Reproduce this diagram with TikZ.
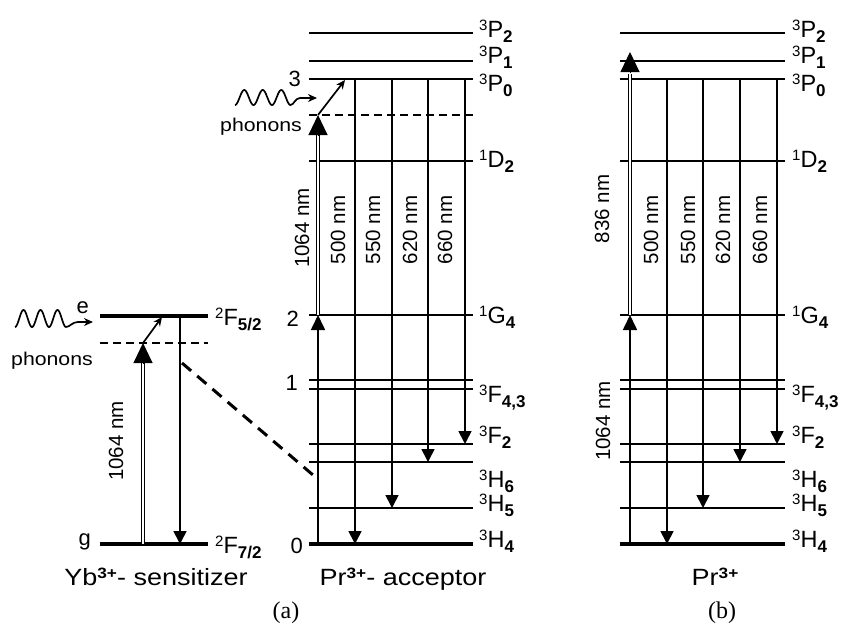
\documentclass[tikz,border=0pt]{standalone}
\usepackage{fontspec}
\setmainfont{Liberation Sans}
\newfontfamily\widesans[FakeStretch=1.15]{Liberation Sans}
\newfontfamily\panelserif{Liberation Serif}
\usetikzlibrary{arrows.meta}
\newcommand{\term}[3]{\raisebox{6.5pt}{\fontsize{15}{15}\selectfont #1}#2\raisebox{-5.5pt}{\fontsize{17}{17}\selectfont\bfseries #3}}
\newcommand{\ionsup}[1]{\raisebox{6.5pt}{\fontsize{15}{15}\selectfont\bfseries #1}}
\tikzset{
	virtlvl/.style={dash pattern=on 8pt off 5pt, line width=1.7pt},
	xfer/.style={dash pattern=on 12pt off 8pt, line width=3pt},
	emisarr/.style={line width=1.7pt, -{Triangle[width=13pt,length=13pt]}},
	pumparr/.style={line width=1.7pt, -{Triangle[width=14pt,length=15pt]}},
	pumpdbl/.style={double, double distance=1.8pt, line width=1.2pt},
	bigtip/.style={line width=1pt, -{Triangle[width=19pt,length=20pt]}},
	phonarr/.style={line width=1.7pt, -{Stealth[width=8pt,length=9pt]}},
	lvllabel/.style={font=\fontsize{23.5}{24}\selectfont, anchor=base west, inner sep=0pt},
	numlabel/.style={font=\fontsize{22}{22}\selectfont, anchor=base east, inner sep=0pt},
	wavelabel/.style={font=\fontsize{20.5}{21}\selectfont, rotate=90, inner sep=0pt},
	phonlabel/.style={font=\widesans\fontsize{18.5}{18.5}\selectfont, inner sep=0pt},
	ionlabel/.style={font=\widesans\fontsize{23.5}{24}\selectfont, anchor=base, inner sep=0pt},
	panellabel/.style={font=\panelserif\fontsize{24}{24}\selectfont, anchor=base, inner sep=0pt},
}

\begin{document}
\begin{tikzpicture}[x=1pt, y=-1pt]
	\useasboundingbox (0,0) rectangle (841,625);

	% Pr3+ levels, panels (a) and (b)
	\foreach \lv/\yy/\lw in {P2/33/1.8pt, P1/61/1.8pt, P0/79/2.8pt, D2/161/1.8pt, G4/315/2.8pt, F4/380/2.8pt, F3/389/2.8pt, F2/444/1.8pt, H6/462/1.8pt, H5/508/1.8pt, H4/544/3.8pt}{
		\draw[line width=\lw] (309,\yy) coordinate (a\lv) -- (473,\yy);
		\draw[line width=\lw] (620,\yy) coordinate (b\lv) -- (785,\yy);
	}
	\foreach \lv/\yy/\txt in {P2/37/{\term{3}{P}{2}}, P1/63/{\term{3}{P}{1}}, P0/91/{\term{3}{P}{0}}, D2/167/{\term{1}{D}{2}}, G4/323/{\term{1}{G}{4}}, F43/402/{\term{3}{F}{4,3}}, F2/443/{\term{3}{F}{2}}, H6/487/{\term{3}{H}{6}}, H5/511/{\term{3}{H}{5}}, H4/547/{\term{3}{H}{4}}}{
		\node[lvllabel] (la\lv) at (479,\yy) {\txt};
		\node[lvllabel] (lb\lv) at (792,\yy) {\txt};
	}
	\node[numlabel] (n3) at (301,86) {3};
	\node[numlabel] (n2) at (299,326) {2};
	\node[numlabel] (n1) at (298,390) {1};
	\node[numlabel] (n0) at (303,553) {0};

	% emission lines
	\coordinate (ca0) at (318,0);
	\coordinate (ca1) at (355,0);
	\coordinate (ca2) at (392,0);
	\coordinate (ca3) at (428,0);
	\coordinate (ca4) at (465,0);
	\coordinate (cb0) at (630,0);
	\coordinate (cb1) at (667,0);
	\coordinate (cb2) at (703,0);
	\coordinate (cb3) at (740,0);
	\coordinate (cb4) at (777,0);
	\foreach \k/\lv in {1/H4, 2/H5, 3/H6, 4/F2}{
		\draw[emisarr] (ca\k |- aP0) -- (ca\k |- a\lv);
		\draw[emisarr] (cb\k |- bP0) -- (cb\k |- b\lv);
	}
	\foreach \k/\xx/\txt in {1/338/500, 2/373/550, 3/410/620, 4/445/660}{
		\node[wavelabel] (wa\k) at (\xx,230) {\txt\ nm};
	}
	\foreach \k/\xx/\txt in {1/651/500, 2/688/550, 3/723/620, 4/760/660}{
		\node[wavelabel] (wb\k) at (\xx,230) {\txt\ nm};
	}

	% pumping, panel (a)
	\draw[pumparr] (ca0 |- aH4) -- (ca0 |- aG4);
	\draw[virtlvl] (309,115) coordinate (aV) -- (473,115);
	\coordinate (aDe) at (318,133);
	\coordinate (aTb) at (318,135);
	\draw[pumpdbl] (ca0 |- aG4) -- (aDe);
	\draw[bigtip] (aTb) -- (ca0 |- aV);
	\coordinate (aHit) at (345,80);
	\draw[phonarr] (ca0 |- aV) -- (aHit);
	\node[wavelabel] (wa0) at (302,228) {1064 nm};
	\coordinate (aPh) at (317,98);
	\draw[phonarr] plot[domain=0:3, samples=90, smooth] ({235+18.5*\x}, {97.5+7.5*cos(360*\x)}) .. controls (294,105) and (295,98) .. (300,98) -- (aPh);
	\node[phonlabel] (aPhT) at (261,127) {phonons};

	% pumping, panel (b)
	\draw[pumparr] (cb0 |- bH4) -- (cb0 |- bG4);
	\coordinate (bDe) at (630,74);
	\coordinate (bTb) at (630,72);
	\coordinate (bTip) at (630,52);
	\draw[pumpdbl] (cb0 |- bG4) -- (bDe);
	\draw[bigtip] (bTb) -- (bTip);
	\node[wavelabel] (wb0) at (602,209) {836 nm};
	\node[wavelabel] (wb5) at (603,421) {1064 nm};

	% Yb3+ sensitizer
	\draw[line width=3.8pt] (100,316) coordinate (ye) -- (208,316);
	\draw[line width=3.8pt] (100,544) coordinate (yg) -- (208,544);
	\draw[virtlvl] (100,343) coordinate (yv) -- (208,343);
	\node[lvllabel] (lye) at (215,325) {\term{2}{F}{5/2}};
	\node[lvllabel] (lyg) at (215,553) {\term{2}{F}{7/2}};
	\node[numlabel] (ne) at (89,313) {e};
	\node[numlabel] (ng) at (91,545) {g};
	\coordinate (cy0) at (143,0);
	\coordinate (cy1) at (180,0);
	\coordinate (yDe) at (143,361);
	\coordinate (yTb) at (143,363);
	\draw[pumpdbl] (cy0 |- yg) -- (yDe);
	\draw[bigtip] (yTb) -- (cy0 |- yv);
	\coordinate (yHit) at (162,317);
	\draw[phonarr] (cy0 |- yv) -- (yHit);
	\draw[emisarr] (cy1 |- ye) -- (cy1 |- yg);
	\node[wavelabel] (wy0) at (116,441) {1064 nm};
	\coordinate (yPh) at (93,322);
	\draw[phonarr] plot[domain=0:3, samples=90, smooth] ({15+17*\x}, {318.5+8.5*cos(360*\x)}) .. controls (70,327) and (72,322) .. (78,322) -- (yPh);
	\node[phonlabel] (yPhT) at (52,361) {phonons};
	\coordinate (xfA) at (182,363);
	\coordinate (xfB) at (313,475);
	\draw[xfer] (xfA) -- (xfB);

	% captions
	\node[ionlabel] (ionYb) at (156,585) {Yb\ionsup{3+}- sensitizer};
	\node[ionlabel] (ionPrA) at (403,585) {Pr\ionsup{3+}- acceptor};
	\node[ionlabel] (ionPrB) at (715,585) {Pr\ionsup{3+}};
	\node[panellabel] (pa) at (286,618) {(a)};
	\node[panellabel] (pb) at (722,618) {(b)};
\end{tikzpicture}
\end{document}
